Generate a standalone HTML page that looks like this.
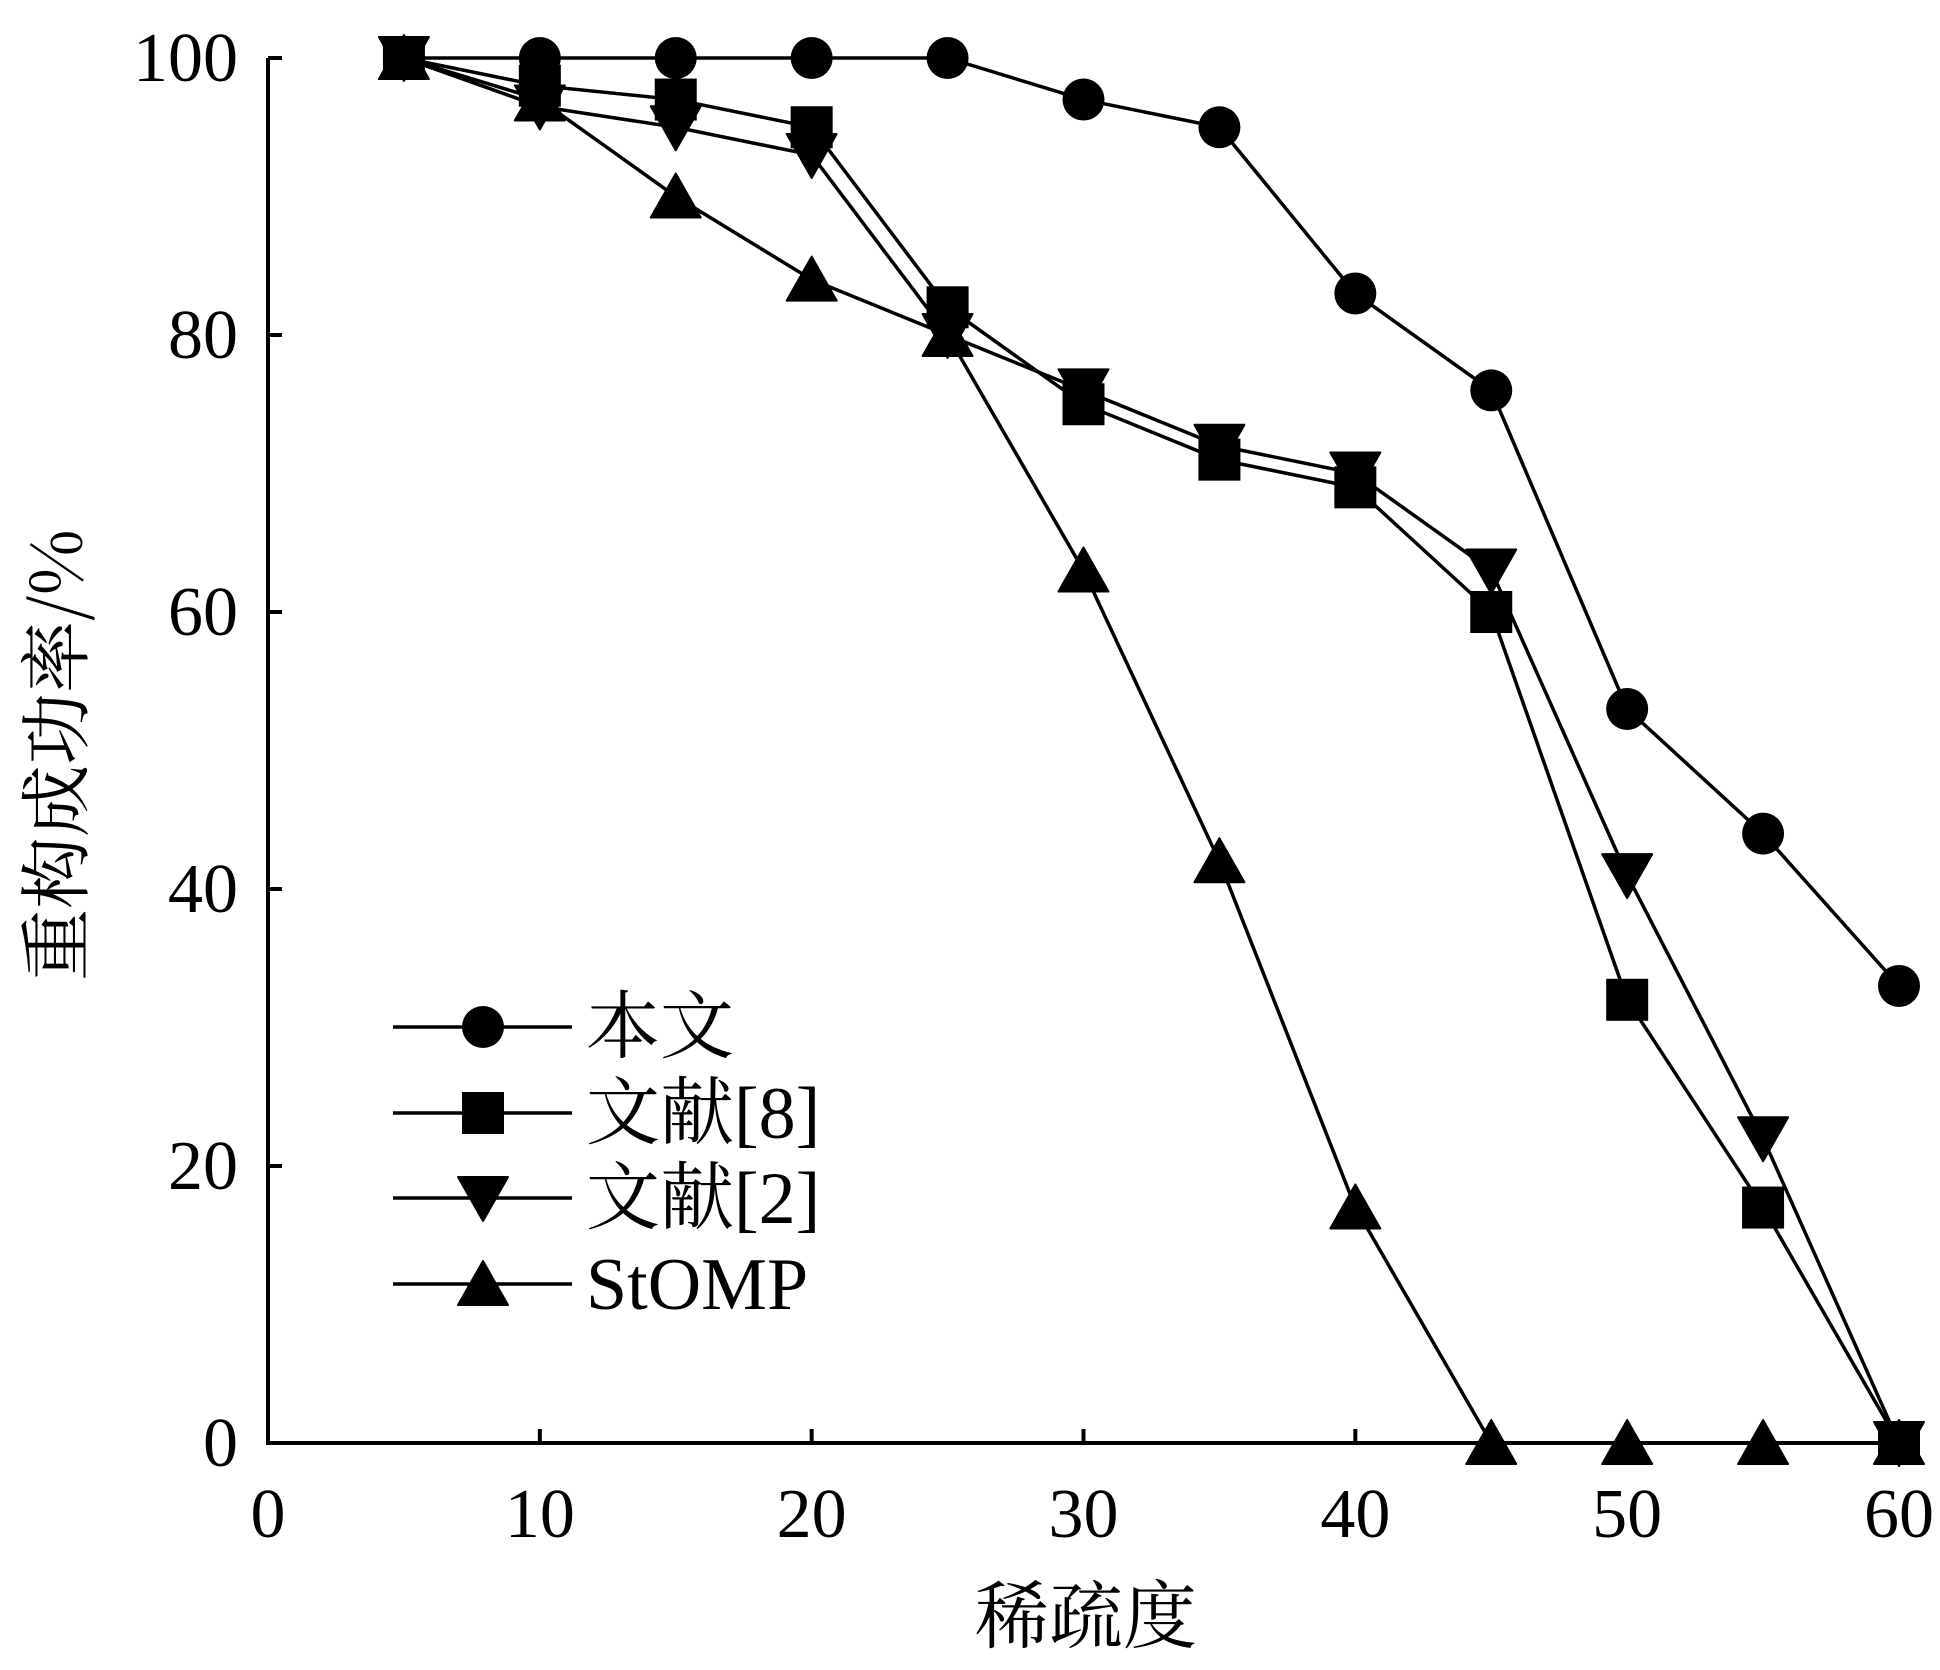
<!DOCTYPE html>
<html><head><meta charset="utf-8">
<style>
html,body{margin:0;padding:0;background:#fff;}
svg{display:block;}
text{font-family:"Liberation Serif","Noto Serif CJK SC",serif;fill:#000;}
</style></head>
<body>
<svg id="chart" width="1940" height="1670" viewBox="0 0 1940 1670" xmlns="http://www.w3.org/2000/svg">
<g id="axes"></g>
<g id="series"></g>
<g id="legend"></g>
<text x="0" y="0" transform="translate(82,755) rotate(-90)" text-anchor="middle" font-size="72" style="font-family:'Noto Serif CJK SC',serif">重构成功率/%</text>
<text x="1086" y="1642" text-anchor="middle" font-size="74" style="font-family:'Noto Serif CJK SC',serif">稀疏度</text>
</svg>
<script>
const xValues = [5,10,15,20,25,30,35,40,45,50,55,60];
const seriesOurs = [100,100,100,100,100,97,95,83,76,53,44,33];
const seriesRef8 = [100,98,97,95,82,75,71,69,60,32,17,0];
const seriesRef2 = [100,96.5,95,93,80,76,72,70,63,41,22,0];
const seriesStOMP = [100,97,90,84,80,63,42,17,0,0,0,0];
const xTicks = [0,10,20,30,40,50,60];
const yTicks = [0,20,40,60,80,100];
const legendLabels = ["本文","文献[8]","文献[2]","StOMP"];

const NS="http://www.w3.org/2000/svg";
const X0=268, X1=1899, Y0=1443, Y1=58;
const sx=v=>X0+(v-0)/(60-0)*(X1-X0);
const sy=v=>Y0-(v-0)/(100-0)*(Y0-Y1);
function mk(tag,attrs,parent){const e=document.createElementNS(NS,tag);for(const k in attrs)e.setAttribute(k,attrs[k]);parent.appendChild(e);return e;}
const axes=document.getElementById('axes');
const ser=document.getElementById('series');
const leg=document.getElementById('legend');

let a=mk('path',{d:`M${X0},${Y1} V${Y0} H${X1}`,fill:'none',stroke:'#000','stroke-width':4},axes);


xTicks.forEach(t=>{
  const x=sx(t);
  const l=mk('line',{x1:x,y1:Y0,x2:x,y2:Y0-14,stroke:'#000','stroke-width':4},axes);
  
  
  const tx=mk('text',{x:x,y:Y0+94,'text-anchor':'middle','font-size':70},axes);
  tx.textContent=t;
  
  
});
yTicks.forEach(t=>{
  const y=sy(t);
  const l=mk('line',{x1:X0,y1:y,x2:X0+14,y2:y,stroke:'#000','stroke-width':4},axes);
  
  
  const tx=mk('text',{x:X0-30,y:y+23,'text-anchor':'end','font-size':70},axes);
  tx.textContent=t;
  
  
});

function marker(type,x,y,parent){
  let e;
  if(type==='circle') e=mk('circle',{cx:x,cy:y,r:21,fill:'#000'},parent);
  else if(type==='square') e=mk('rect',{x:x-21,y:y-21,width:42,height:42,fill:'#000'},parent);
  else if(type==='down') e=mk('path',{d:`M${x-25},${y-21} L${x+25},${y-21} L${x},${y+23} Z`,fill:'#000','stroke-linejoin':'round',stroke:'#000','stroke-width':2},parent);
  else e=mk('path',{d:`M${x-25},${y+21} L${x+25},${y+21} L${x},${y-23} Z`,fill:'#000','stroke-linejoin':'round',stroke:'#000','stroke-width':2},parent);
  return e;
}
const all=[[seriesOurs,'circle','ours'],[seriesRef8,'square','ref8'],[seriesRef2,'down','ref2'],[seriesStOMP,'up','stomp']];
all.forEach(([vals,type,name])=>{
  const g=mk('g',{},ser);
  
  
  const d=vals.map((v,i)=>(i?'L':'M')+sx(xValues[i])+','+sy(v)).join(' ');
  const p=mk('path',{d:d,fill:'none',stroke:'#000','stroke-width':3.5},g);
  
  
  vals.forEach((v,i)=>{
    const m=marker(type,sx(xValues[i]),sy(v),g);
    
    
  });
});

const legY=[1027,1113,1198,1284];
all.forEach(([vals,type,name],i)=>{
  const g=mk('g',{},leg);
  
  
  mk('line',{x1:393,y1:legY[i],x2:572,y2:legY[i],stroke:'#000','stroke-width':3.5},g);
  marker(type,483,legY[i],g);
  const t=mk('text',{x:586,y:legY[i]+25,'font-size':74},g);
  t.textContent=legendLabels[i];
});
</script>
</body></html>
